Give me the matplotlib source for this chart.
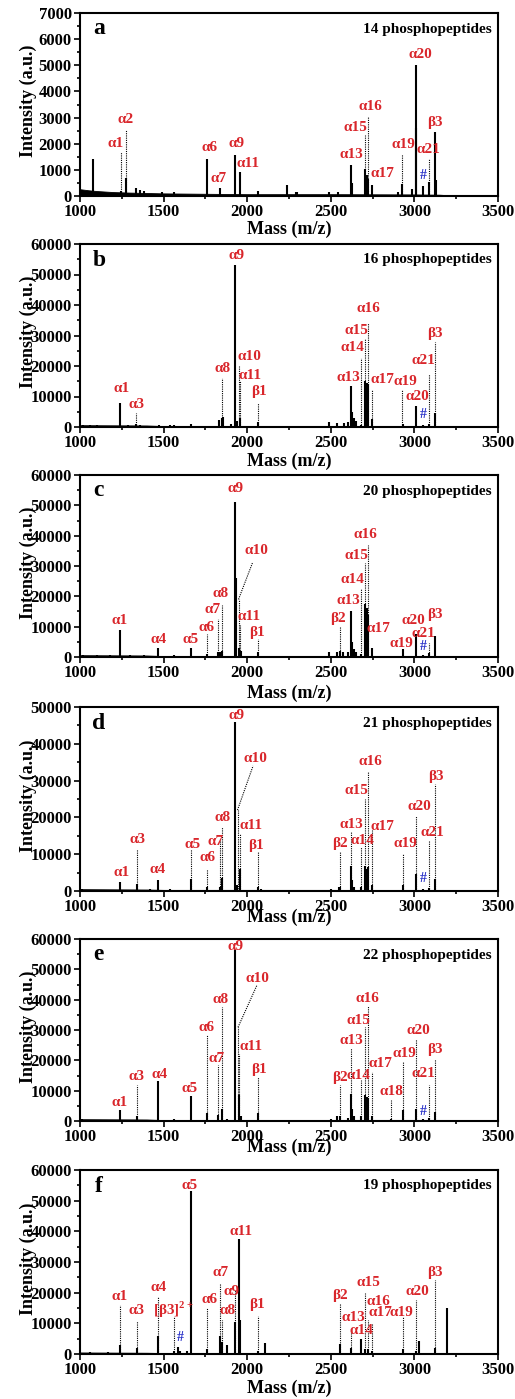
import matplotlib.pyplot as plt
from matplotlib.ticker import MultipleLocator

plt.rcParams['font.family'] = ['Liberation Serif', 'DejaVu Serif']
plt.rcParams['font.weight'] = 'bold'
plt.rcParams['mathtext.fontset'] = 'custom'
plt.rcParams['mathtext.rm'] = 'Liberation Serif:bold'
plt.rcParams['mathtext.bf'] = 'Liberation Serif:bold'

RED = '#d9262b'
BLUE = '#2a32c8'

# ---- panel a : 14 phosphopeptides ----
a_mz = [1080, 1243, 1273, 1335, 1360, 1380, 1490, 1565, 1762, 1836, 1930, 1954,
        2065, 2240, 2290, 2300, 2490, 2545, 2620, 2628, 2706, 2715, 2722, 2748,
        2900, 2927, 2985, 3007, 3012, 3051, 3087, 3121, 3127]
a_int = [1400, 200, 680, 300, 220, 180, 150, 160, 1400, 320, 1560, 900,
         200, 430, 150, 150, 150, 170, 1200, 500, 1050, 800, 650, 430,
         150, 450, 250, 5000, 2600, 370, 550, 2430, 600]
a_base_mz = [1000, 1050, 1100, 1200, 1300, 1500, 2000, 2500, 3000, 3150, 3200, 3500]
a_base = [260, 220, 190, 150, 130, 100, 70, 70, 60, 50, 30, 30]
# (label, peak m/z, dotted line top, label m/z, label intensity)
a_labels = [('α1', 1243, 1690, 1215, 2009), ('α2', 1273, 2520, 1275, 2943),
            ('α6', 1762, 0, 1772, 1843), ('α7', 1836, 0, 1828, 665),
            ('α9', 1930, 0, 1934, 2009), ('α11', 1954, 0, 2008, 1241),
            ('α13', 2620, 0, 2626, 1600), ('α15', 2706, 2350, 2646, 2623),
            ('α16', 2722, 3060, 2736, 3417), ('α17', 2748, 0, 2806, 857),
            ('α19', 2927, 1600, 2935, 1984), ('α20', 3007, 0, 3035, 5426),
            ('α21', 3087, 1430, 3083, 1779), ('β3', 3121, 0, 3125, 2803)]
a_hash = (3051, 768)

# ---- panel b : 16 phosphopeptides ----
b_mz = [1020, 1060, 1100, 1239, 1290, 1335, 1360, 1470, 1540, 1560, 1665, 1830,
        1848, 1853, 1905, 1930, 1940, 1955, 2065, 2490, 2540, 2580, 2600, 2620,
        2628, 2640, 2650, 2682, 2706, 2715, 2722, 2748, 2930, 3007, 3050, 3087, 3121]
b_int = [700, 600, 600, 8000, 600, 1000, 800, 800, 700, 800, 1000, 2200,
         3000, 3200, 1000, 53000, 2000, 2800, 1500, 1700, 1300, 1300, 1600, 13500,
         5000, 3000, 2000, 700, 15000, 14500, 14000, 2500, 1000, 7000, 500, 1000, 4500]
b_base_mz = [1000, 1400, 1500, 2500, 3500]
b_base = [600, 500, 300, 300, 200]
b_labels = [('α1', 1239, 0, 1251, 12600), ('α3', 1335, 4700, 1339, 7460),
            ('α8', 1848, 16000, 1854, 19200), ('α9', 1930, 0, 1934, 56300),
            ('α10', 1948, 20000, 2014, 23250), ('α11', 1955, 15000, 2018, 17000),
            ('β1', 2065, 8000, 2073, 11500), ('α13', 2620, 0, 2606, 16100),
            ('α14', 2682, 22500, 2632, 26100), ('α15', 2706, 29000, 2652, 31500),
            ('α16', 2722, 34000, 2726, 38900), ('α17', 2748, 12000, 2806, 15700),
            ('α19', 2927, 12000, 2945, 15000), ('α20', 3007, 0, 3015, 10100),
            ('α21', 3087, 17500, 3055, 21900), ('β3', 3121, 28000, 3125, 30500)]
b_hash = (3051, 4200)

# ---- panel c : 20 phosphopeptides ----
c_mz = [1020, 1100, 1180, 1240, 1300, 1380, 1465, 1560, 1665, 1760, 1826, 1838,
        1850, 1930, 1935, 1950, 1960, 2065, 2490, 2540, 2556, 2575, 2600, 2620,
        2628, 2640, 2650, 2682, 2706, 2715, 2722, 2748, 2930, 3007, 3051, 3087, 3121]
c_int = [600, 500, 500, 8800, 600, 500, 3000, 800, 3000, 1000, 1500, 1500,
         2000, 51000, 26000, 3000, 2000, 1800, 1500, 1800, 2000, 1500, 1500, 15000,
         5000, 2500, 1500, 1000, 17500, 16000, 14000, 3000, 2500, 7500, 800, 1200, 7000]
c_base_mz = [1000, 1400, 1500, 2500, 3500]
c_base = [600, 500, 300, 300, 200]
c_labels = [('α1', 1240, 0, 1239, 12065), ('α4', 1465, 0, 1469, 5700),
            ('α5', 1665, 0, 1664, 5900), ('α6', 1760, 7500, 1758, 9650),
            ('α7', 1826, 12600, 1794, 15575), ('α8', 1848, 17000, 1838, 20950),
            ('α9', 1930, 0, 1930, 55400), ('α10', 1948, 19000, 2053, 35000),
            ('α11', 1955, 10500, 2013, 13400), ('β1', 2065, 5800, 2061, 8100),
            ('β2', 2556, 10000, 2540, 12800), ('α13', 2620, 0, 2606, 18650),
            ('α14', 2682, 22500, 2632, 25670), ('α15', 2706, 31000, 2652, 33450),
            ('α16', 2722, 37000, 2706, 40250), ('α17', 2748, 0, 2782, 9540),
            ('α19', 2930, 0, 2925, 4500), ('α20', 3007, 0, 2991, 12065),
            ('α21', 3087, 4500, 3055, 7900), ('β3', 3121, 0, 3125, 13900)]
c_hash = (3051, 3300)
c_leader = (1948, 19000, 2032, 31100)

# ---- panel d : 21 phosphopeptides ----
d_mz = [1010, 1100, 1240, 1340, 1420, 1465, 1540, 1665, 1760, 1836, 1850, 1930,
        1940, 1955, 2065, 2080, 2500, 2550, 2556, 2620, 2628, 2640, 2682, 2706,
        2715, 2722, 2748, 2930, 3007, 3050, 3087, 3121]
d_int = [600, 400, 2500, 1800, 500, 3000, 600, 3200, 1200, 1200, 3500, 46000,
         1500, 6000, 1000, 600, 600, 1000, 1200, 6800, 3000, 1000, 1000, 6800,
         6000, 6500, 1500, 1500, 4500, 500, 800, 3200]
d_base_mz = [1000, 1400, 1500, 2500, 3500]
d_base = [500, 400, 300, 300, 200]
d_labels = [('α1', 1240, 0, 1249, 5100), ('α3', 1340, 11500, 1345, 14000),
            ('α4', 1465, 0, 1463, 5830), ('α5', 1665, 11300, 1672, 12700),
            ('α6', 1760, 6000, 1762, 9020), ('α7', 1836, 14000, 1808, 13570),
            ('α8', 1850, 17500, 1850, 19850), ('α9', 1930, 0, 1934, 47720),
            ('α10', 1942, 22000, 2047, 36070), ('α11', 1955, 15500, 2024, 17670),
            ('β1', 2065, 10500, 2051, 12390), ('β2', 2556, 11000, 2556, 13020),
            ('α13', 2620, 16000, 2626, 18120), ('α14', 2682, 12000, 2692, 13750),
            ('α15', 2706, 25000, 2652, 27230), ('α16', 2722, 32700, 2740, 35150),
            ('α17', 2748, 16500, 2806, 17580), ('α19', 2930, 10000, 2945, 13020),
            ('α20', 3007, 20500, 3031, 22860), ('α21', 3087, 13500, 3105, 16030),
            ('β3', 3121, 29000, 3127, 31060)]
d_hash = (3051, 3460)
d_leader = (1942, 22000, 2035, 34000)

# ---- panel e : 22 phosphopeptides ----
e_mz = [1010, 1100, 1240, 1340, 1465, 1560, 1662, 1760, 1828, 1850, 1880, 1930,
        1950, 1960, 2065, 2500, 2540, 2556, 2600, 2620, 2628, 2640, 2682, 2706,
        2715, 2722, 2748, 2860, 2930, 3007, 3051, 3087, 3121]
e_int = [700, 400, 3500, 1500, 13200, 500, 8300, 2500, 2000, 4000, 700, 56500,
         8500, 1500, 2500, 800, 1500, 1500, 1000, 9000, 4000, 1500, 1500, 8500,
         8000, 7500, 1500, 500, 3500, 4000, 500, 1000, 3000]
e_base_mz = [1000, 1400, 1500, 2500, 3500]
e_base = [600, 500, 300, 300, 200]
e_labels = [('α1', 1240, 0, 1235, 6250), ('α3', 1340, 12000, 1339, 14700),
            ('α4', 1465, 0, 1475, 15470), ('α5', 1662, 0, 1658, 10860),
            ('α6', 1760, 28500, 1758, 30820), ('α7', 1828, 18500, 1814, 20730),
            ('α8', 1850, 37500, 1842, 39930), ('α9', 1930, 0, 1928, 57480),
            ('α10', 1945, 30900, 2064, 46840), ('α11', 1950, 22000, 2022, 24570),
            ('β1', 2065, 14500, 2073, 16890), ('β2', 2556, 12000, 2556, 14480),
            ('α13', 2620, 24000, 2622, 26540), ('α14', 2682, 13500, 2666, 15030),
            ('α15', 2706, 31000, 2666, 33130), ('α16', 2722, 38000, 2722, 40260),
            ('α17', 2748, 16000, 2796, 18870), ('α18', 2860, 7000, 2862, 9760),
            ('α19', 2930, 19500, 2941, 22380), ('α20', 3007, 27000, 3021, 29730),
            ('α21', 3087, 12000, 3055, 15800), ('β3', 3121, 20500, 3125, 23470)]
e_hash = (3051, 3180)
e_leader = (1945, 30900, 2057, 44600)

# ---- panel f : 19 phosphopeptides ----
f_mz = [1060, 1170, 1240, 1340, 1465, 1565, 1585, 1600, 1640, 1662, 1760, 1836,
        1850, 1878, 1925, 1950, 1955, 2065, 2105, 2556, 2620, 2682, 2706, 2722,
        2748, 2930, 3007, 3025, 3121, 3192]
f_int = [500, 600, 2800, 1800, 6000, 1000, 2200, 1000, 1000, 53000, 1500, 6000,
         4000, 2800, 10500, 37500, 11000, 1000, 3500, 3200, 1800, 5000, 1500, 1500,
         1000, 1500, 1000, 4200, 1800, 15000]
f_base_mz = [1000, 1400, 1500, 2500, 3500]
f_base = [500, 400, 300, 300, 200]
f_labels = [('α1', 1240, 16000, 1239, 18840), ('α3', 1340, 10800, 1339, 14050),
            ('α4', 1465, 18500, 1469, 21670), (r'[β3]$^{2+}$', 1565, 12000, 1559, 14300),
            ('α5', 1662, 0, 1658, 55100), ('α6', 1760, 15000, 1772, 17860),
            ('α7', 1836, 23000, 1838, 26570), ('α8', 1850, 11000, 1884, 14050),
            ('α9', 1925, 21000, 1904, 20470), ('α11', 1950, 0, 1962, 40070),
            ('β1', 2065, 12500, 2061, 16230), ('β2', 2556, 16500, 2556, 18950),
            ('α13', 2620, 8000, 2636, 11870), ('α14', 2682, 0, 2686, 7730),
            ('α15', 2706, 20000, 2726, 23200), ('α16', 2722, 11000, 2786, 16990),
            ('α17', 2748, 10000, 2796, 13400), ('α19', 2930, 12000, 2925, 13400),
            ('α20', 3007, 17500, 3015, 20250), ('β3', 3121, 24000, 3125, 26500)]
f_hash = (1599, 5230)

panels = [
    ('a', '14 phosphopeptides', 7000, 1000, a_mz, a_int, a_base_mz, a_base, a_labels, a_hash, None),
    ('b', '16 phosphopeptides', 60000, 10000, b_mz, b_int, b_base_mz, b_base, b_labels, b_hash, None),
    ('c', '20 phosphopeptides', 60000, 10000, c_mz, c_int, c_base_mz, c_base, c_labels, c_hash, c_leader),
    ('d', '21 phosphopeptides', 50000, 10000, d_mz, d_int, d_base_mz, d_base, d_labels, d_hash, d_leader),
    ('e', '22 phosphopeptides', 60000, 10000, e_mz, e_int, e_base_mz, e_base, e_labels, e_hash, e_leader),
    ('f', '19 phosphopeptides', 60000, 10000, f_mz, f_int, f_base_mz, f_base, f_labels, f_hash, None),
]

W, H = 515, 1399
fig = plt.figure(figsize=(W / 100, H / 100), dpi=100)

ax_left, ax_right = 80, 498
tops = [13, 244, 475, 707, 939, 1170]
heights = [183, 183, 182, 184, 182, 184]
xlabel_off = [33, 34, 36, 26, 26, 34]

for i, (letter, count, ymax, ystep, mz, inten, bmz, blev, labels, hsh, leader) in enumerate(panels):
    top, h = tops[i], heights[i]
    ax = fig.add_axes([ax_left / W, 1 - (top + h) / H, (ax_right - ax_left) / W, h / H])

    ax.fill_between(bmz, 0, blev, color='k', lw=0.6, zorder=3)
    for name, pmz, ltop, tx, ty in labels:
        if ltop > 0:
            ax.vlines(pmz, 0, ltop, colors='k', linestyles=(0, (1, 1)), lw=0.8, zorder=2)
    if leader is not None:
        ax.plot([leader[0], leader[2]], [leader[1], leader[3]], color='k',
                ls=(0, (1, 1)), lw=0.8, zorder=2)
    ax.vlines(mz, 0, inten, colors='k', lw=1.5, zorder=3)

    for name, pmz, ltop, tx, ty in labels:
        ax.text(tx, ty, name, color=RED, fontsize=11, fontweight='bold',
                ha='center', va='center', zorder=4)
    ax.text(hsh[0], hsh[1], '#', color=BLUE, fontsize=10, fontweight='bold',
            ha='center', va='center', zorder=4)

    ax.text(0.045, 1 - 16 / h, letter, transform=ax.transAxes, fontsize=17,
            fontweight='bold', ha='center', va='center')
    ax.text(0.985, 1 - 16 / h, count, transform=ax.transAxes, fontsize=11,
            fontweight='bold', ha='right', va='center')

    ax.set_xlim(1000, 3500)
    ax.set_ylim(0, ymax)
    ax.xaxis.set_major_locator(MultipleLocator(500))
    ax.xaxis.set_minor_locator(MultipleLocator(250))
    ax.yaxis.set_major_locator(MultipleLocator(ystep))
    ax.yaxis.set_minor_locator(MultipleLocator(ystep / 2))
    ax.tick_params(which='both', direction='out', width=1.2, labelsize=12, top=False, right=False)
    ax.tick_params(which='major', length=4, pad=2)
    ax.tick_params(which='minor', length=2.5)
    for lab in ax.get_xticklabels() + ax.get_yticklabels():
        lab.set_fontweight('bold')
    for sp in ax.spines.values():
        sp.set_linewidth(1.5)

    ax.set_xlabel('Mass (m/z)', fontsize=13, fontweight='bold', va='center')
    ax.xaxis.set_label_coords(0.5, -xlabel_off[i] / h)
    ax.set_ylabel('Intensity (a.u.)', fontsize=13, fontweight='bold', va='center')
    ax.yaxis.set_label_coords(-52 / (ax_right - ax_left), 0.52)

fig.savefig('out.png', dpi=100)
